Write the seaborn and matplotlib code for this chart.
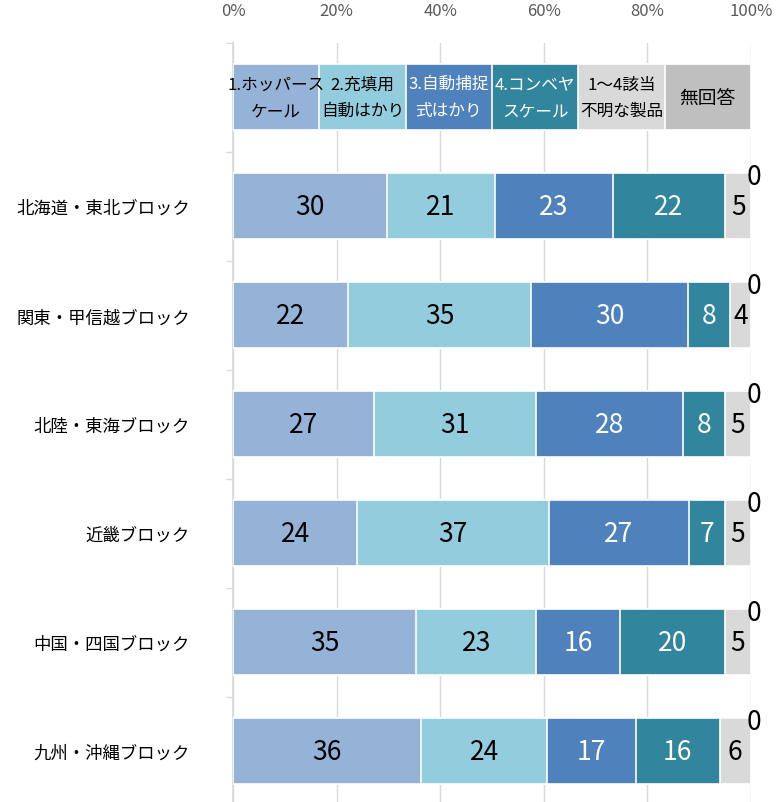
import matplotlib
matplotlib.use("Agg")
import matplotlib.pyplot as plt
import seaborn as sns
import pandas as pd
import numpy as np

# ---- data ----
regions = ["北海道・東北ブロック", "関東・甲信越ブロック", "北陸・東海ブロック",
           "近畿ブロック", "中国・四国ブロック", "九州・沖縄ブロック"]
series = ["1.ホッパース\nケール", "2.充填用\n自動はかり", "3.自動捕捉\n式はかり",
          "4.コンベヤ\nスケール", "1～4該当\n不明な製品", "無回答"]
hopper = [30, 22, 27, 24, 35, 36]
filling = [21, 35, 31, 37, 23, 24]
capture = [23, 30, 28, 27, 16, 17]
conveyor = [22, 8, 8, 7, 20, 16]
unknown = [5, 4, 5, 5, 5, 6]
no_answer = [0, 0, 0, 0, 0, 0]
tick_labels = ["0%", "20%", "40%", "60%", "80%", "100%"]

colors = ["#95B3D7", "#93CDDD", "#4F81BD", "#31859C", "#D9D9D9", "#BFBFBF"]
text_colors = ["black", "black", "white", "white", "black", "black"]

counts = pd.DataFrame({s: v for s, v in zip(series, [hopper, filling, capture, conveyor, unknown, no_answer])},
                      index=regions)
share = counts.div(counts.sum(axis=1), axis=0) * 100

# first row of the chart is a header row: equal parts holding the series names
header = pd.DataFrame([[100 / len(series)] * len(series)], columns=series, index=[""])
table = pd.concat([header, share])
cum = table.cumsum(axis=1)

sns.set_theme(style="white")
plt.rcParams["font.family"] = ["Noto Sans CJK JP", "DejaVu Sans"]

fig = plt.figure(figsize=(7.8, 8.03), dpi=100)
ax = fig.add_axes([233 / 780, -0.0044, 518 / 780, 0.950])

# stacked bars: draw cumulative totals from the outermost inwards
for i in reversed(range(len(series))):
    sns.barplot(x=cum.iloc[:, i].values, y=cum.index, color=colors[i], orient="h",
                width=0.61, edgecolor="white", linewidth=1.2, saturation=1, ax=ax, zorder=3)

ax.set_xlim(0, 100)
ax.set_ylim(len(table) - 0.5, -0.5)

# header labels
for i, s in enumerate(series):
    mid = cum.iloc[0, i] - table.iloc[0, i] / 2
    ax.text(mid, 0, s, ha="center", va="center", fontsize=12 if "\n" in s else 13.5,
            color=text_colors[i], linespacing=1.75, zorder=5)

# value labels
for r, reg in enumerate(regions, start=1):
    for i, s in enumerate(series):
        val = counts.loc[reg, s]
        if val == 0:
            ax.text(cum.iloc[r, i] + 0.6, r - 0.27, f"{val}", ha="center", va="center",
                    fontsize=19, color="black", zorder=5)
        else:
            mid = cum.iloc[r, i] - table.iloc[r, i] / 2
            ax.text(mid, r, f"{val}", ha="center", va="center", fontsize=19,
                    color=text_colors[i], zorder=5)

# axes styling
ax.xaxis.tick_top()
ax.set_xticks(np.linspace(0, 100, len(tick_labels)))
ax.set_xticklabels(tick_labels, fontsize=12, color="#595959")
ax.tick_params(axis="x", length=0, pad=17)
ax.grid(axis="x", color="#D9D9D9", linewidth=1, zorder=0)
ax.set_yticks(range(len(table)))
ax.set_yticklabels(table.index, fontsize=12.5, color="black")
ax.set_yticks(np.arange(-0.5, len(table)), minor=True)
ax.tick_params(axis="y", which="major", length=0, pad=31)
ax.tick_params(axis="y", which="minor", length=5, color="#D9D9D9", width=1, direction="out", left=True)
for side in ["top", "right", "bottom"]:
    ax.spines[side].set_visible(False)
ax.spines["left"].set_color("#D9D9D9")
ax.set_xlabel("")
ax.set_ylabel("")

fig.savefig("out.png", dpi=100)
